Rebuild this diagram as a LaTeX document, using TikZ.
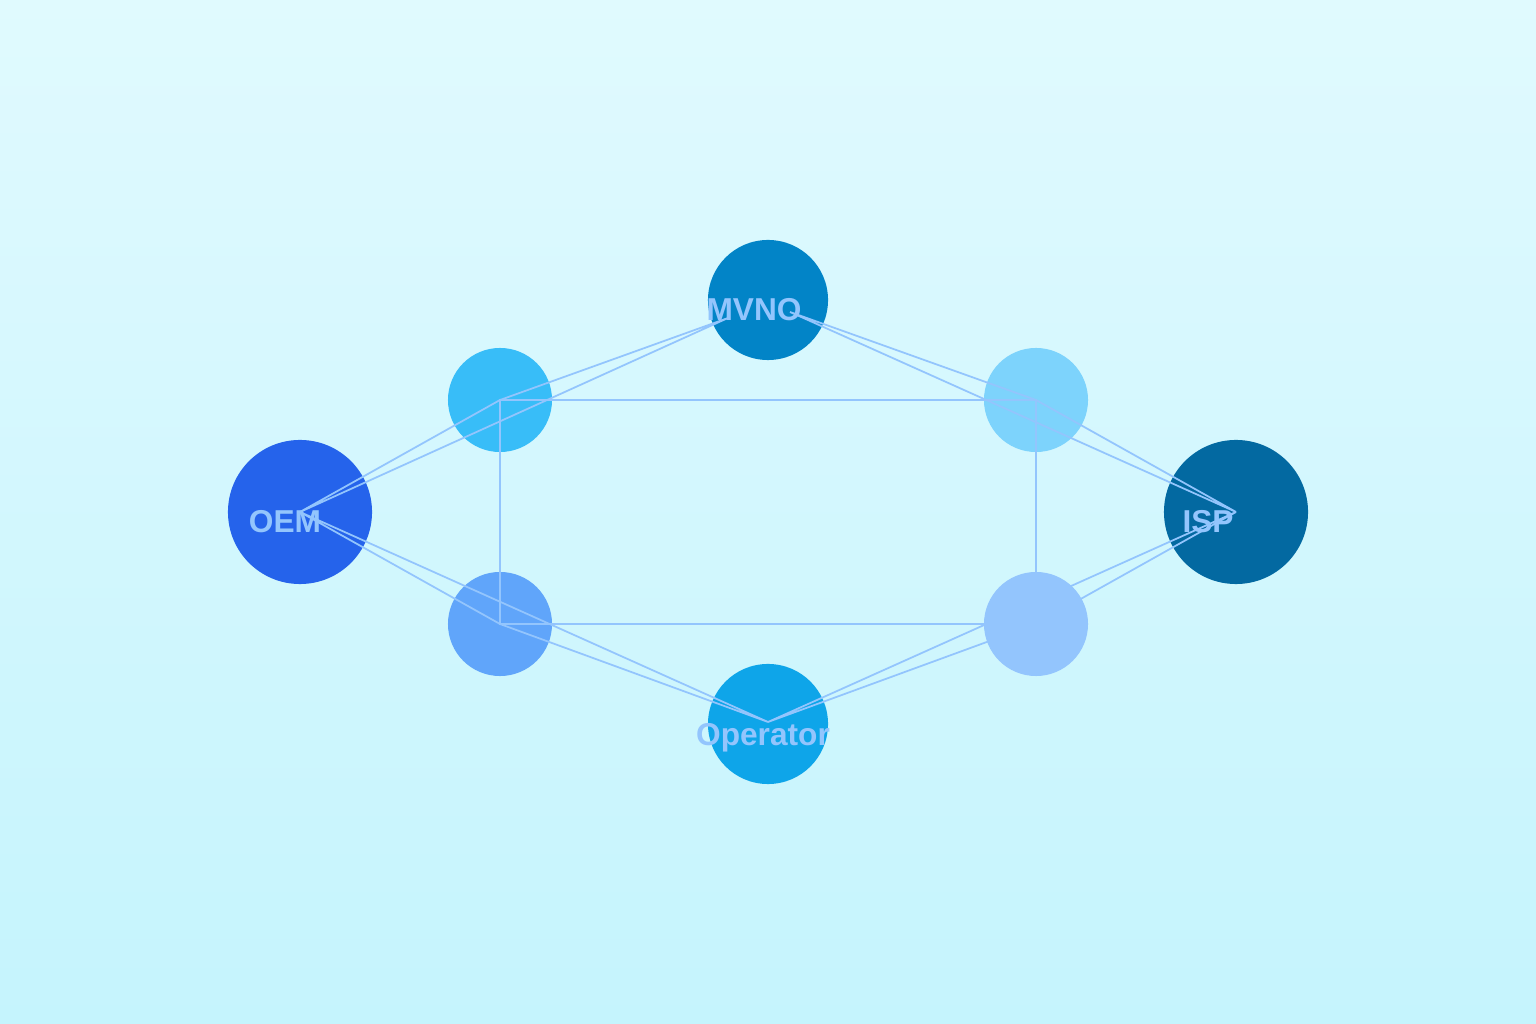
\documentclass[tikz,border=0pt]{standalone}
\usepackage{fontspec}
\setmainfont{Liberation Sans}
\usetikzlibrary{positioning}
\definecolor{bgtop}{HTML}{E0FAFE}
\definecolor{bgbot}{HTML}{C5F4FD}
\definecolor{edgeblue}{HTML}{93C5FD}
\begin{document}
\begin{tikzpicture}[x=0.01cm, y=0.01cm,
    hub/.style={circle, minimum size=1.44cm, inner sep=0pt},
    mid/.style={circle, minimum size=1.2cm, inner sep=0pt},
    small/.style={circle, minimum size=1.04cm, inner sep=0pt},
    lbl/.style={text=edgeblue, font=\fontsize{9}{10}\selectfont\bfseries, inner sep=0pt},
    link/.style={draw=edgeblue, line width=0.5pt}]
      \shade[top color=bgtop, bottom color=bgbot] (0,0) rectangle (1536,1024);
      \useasboundingbox (0,0) rectangle (1536,1024);

      \node[hub, fill=blue!60!cyan!90!black, fill={rgb,255:red,37;green,99;blue,235}] (oem) at (300,512) {};
      \node[hub, fill={rgb,255:red,3;green,105;blue,161}] (isp) at (1236,512) {};
      \node[mid, fill={rgb,255:red,2;green,132;blue,199}] (mvno) at (768,724) {};
      \node[mid, fill={rgb,255:red,14;green,165;blue,233}] (op) at (768,300) {};
      \node[small, fill={rgb,255:red,56;green,189;blue,248}] (a) at (500,624) {};
      \node[small, fill={rgb,255:red,125;green,211;blue,252}] (b) at (1036,624) {};
      \node[small, fill={rgb,255:red,96;green,165;blue,250}] (c) at (500,400) {};
      \node[small, fill={rgb,255:red,147;green,197;blue,253}] (d) at (1036,400) {};

      \coordinate (mvnoW) at (728,706);
      \coordinate (mvnoE) at (790,712);
      \coordinate (opT) at (768,302);

      % connectors
      \draw[link] (oem.center) -- (a.center) -- (mvnoW) -- cycle;
      \draw[link] (mvnoE) -- (b.center) -- (isp.center) -- cycle;
      \draw[link] (isp.center) -- (d.center) -- (opT) -- cycle;
      \draw[link] (opT) -- (c.center) -- (oem.center) -- cycle;
      \draw[link] (a.center) -- (b.center) -- (d.center) -- (c.center) -- cycle;

      \node[lbl] at (754,714) {MVNO};
      \node[lbl] at (285,502) {OEM};
      \node[lbl] at (1208,502) {ISP};
      \node[lbl] at (763,286) {Operator};
    \end{tikzpicture}
\end{document}
